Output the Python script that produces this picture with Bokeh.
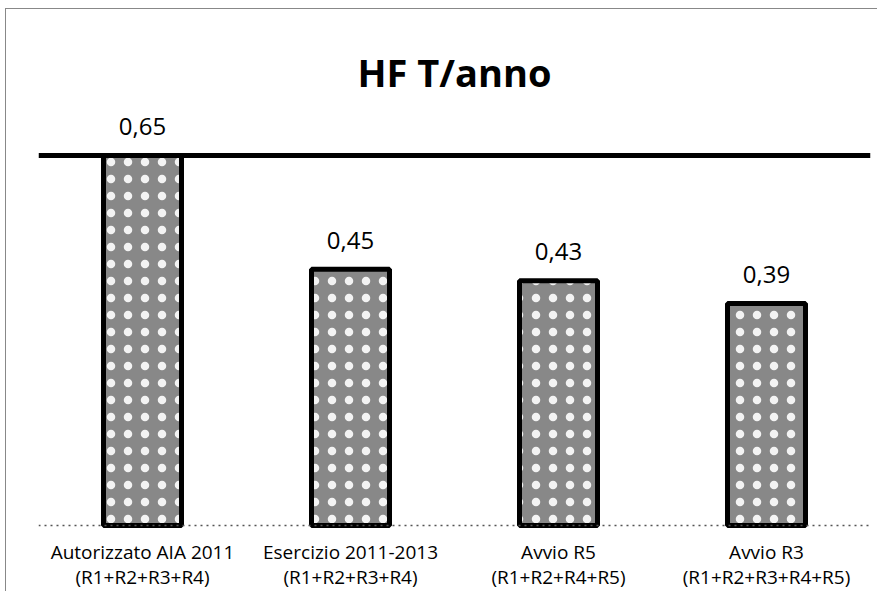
from bokeh.plotting import figure
from bokeh.models import ColumnDataSource, Span, FactorRange, Range1d
from bokeh.core.properties import value
from bokeh.embed import file_html
from bokeh.resources import INLINE

# ---- data ----
categories = [
    "Autorizzato AIA 2011\n(R1+R2+R3+R4)",
    "Esercizio 2011-2013\n(R1+R2+R3+R4)",
    "Avvio R5\n(R1+R2+R4+R5)",
    "Avvio R3\n(R1+R2+R3+R4+R5)",
]
values = [0.65, 0.45, 0.43, 0.39]
value_labels = ["0,65", "0,45", "0,43", "0,39"]
limit_value = 0.65
title_text = "HF T/anno"

src = ColumnDataSource(dict(cat=categories, val=values, lab=value_labels,
                            zero=[0] * len(categories)))

p = figure(
    width=877, height=591,
    x_range=FactorRange(*categories, range_padding=0),
    y_range=Range1d(-0.116, 0.7467),
    output_backend="svg", toolbar_location=None,
    min_border_left=38, min_border_right=7,
    min_border_top=100, min_border_bottom=0,
    border_fill_color=None,
    styles={
        "background-image": "linear-gradient(#888888, #888888), linear-gradient(#888888, #888888)",
        "background-position": "5px 8px, 5px 8px",
        "background-size": "1px 100%, 100% 1px",
        "background-repeat": "no-repeat, no-repeat",
    },
)

p.title.text = title_text
p.title.align = "center"
p.title.text_font = "Open Sans"
p.title.text_font_style = "bold"
p.title.text_font_size = "38px"
p.title.text_color = "black"
p.title.standoff = 6

# dotted category baseline
p.add_layout(Span(location=0, dimension="width", line_color="#555555",
                  line_dash="dotted", line_width=1.5))

p.vbar(x="cat", top="val", bottom=0, width=0.375, source=src,
       fill_color="#888888", line_color="black", line_width=5,
       hatch_pattern="dot", hatch_color="white", hatch_scale=17, hatch_weight=6,
       hatch_alpha=0.9)

p.text(x="cat", y="val", text="lab", source=src,
       text_align="center", text_baseline="alphabetic", y_offset=-29,
       text_font=value("Open Sans"), text_font_size="24px", text_color="black")

# category labels (two lines each) under the baseline
p.text(x="cat", y="zero", text="cat", source=src,
       text_align="center", text_baseline="top", y_offset=14,
       text_line_height=0.95,
       text_font=value("Open Sans"), text_font_size="19px", text_color="black")

p.add_layout(Span(location=limit_value, dimension="width",
                  line_color="black", line_width=5))

p.xaxis.visible = False
p.yaxis.visible = False
p.xgrid.grid_line_color = None
p.ygrid.grid_line_color = None
p.outline_line_color = None

open("out.html", "w").write(file_html(p, INLINE))
